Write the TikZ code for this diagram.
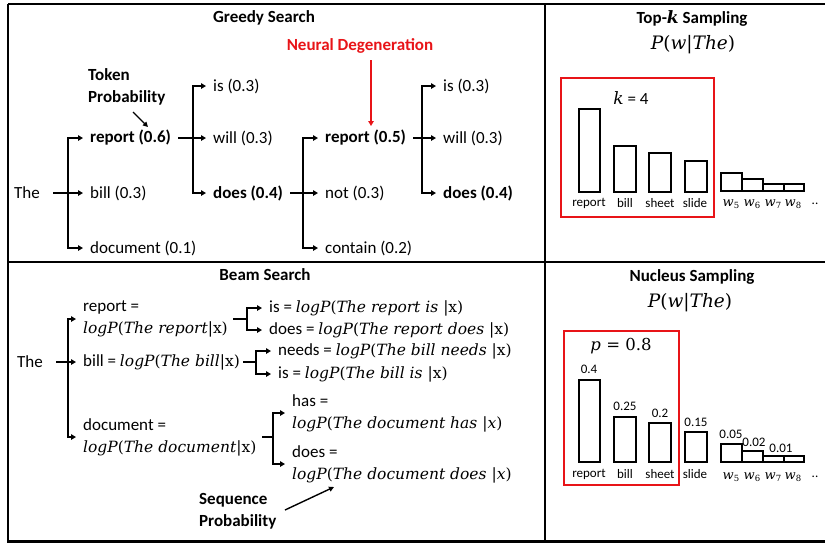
\documentclass[tikz,border=0pt]{standalone}
\usepackage{fontspec}
\setmainfont{Carlito}
\newfontfamily\mif{DejaVu Serif}
\usetikzlibrary{arrows.meta}
\definecolor{rd}{RGB}{232,20,24}
\newcommand\fs{\fontsize{17}{22}\selectfont}
\newcommand\fsb{\fontsize{13}{15}\selectfont}
\newcommand\mi{\mif\itshape}
\newcommand\mr{\mif\upshape}
\newcommand\lgp[2]{{\fontsize{15.5}{22}\selectfont{\mi logP}{\mr(}{\mi #1}{\mr #2)}}}
\newcommand\pwt{{\fontsize{18.5}{22}\selectfont{\mi P}{\mr(}{\mi w}{\mr|}{\mi The}{\mr)}}}
\newcommand\wl[1]{{\fontsize{13}{15}\selectfont\mi w}\raisebox{-0.3ex}{\fontsize{8.5}{10}\selectfont\mr #1}}
\tikzset{
  ln/.style={line width=1.8pt, line join=miter},
  arr/.style={ln, -{Triangle[length=5pt,width=5.5pt]}},
  arrtwo/.style={ln, {Triangle[length=5pt,width=5.5pt]}-{Triangle[length=5pt,width=5.5pt]}},
  tn/.style={inner xsep=7pt, inner ysep=0pt, anchor=west, font=\fs},
  bn/.style={tn, font=\fs\bfseries},
  tl/.style={tn, align=left, font=\fs},
  title/.style={inner sep=0pt, font=\fs\bfseries},
  bar/.style={line width=1.7pt},
  blab/.style={inner sep=0pt, font=\fsb},
  redbox/.style={draw=rd, line width=1.8pt},
}
\begin{document}
\begin{tikzpicture}[x=1pt,y=-1pt]
\useasboundingbox (0,0) rectangle (825,542);
% frame
\draw[line width=2.2pt] (8,4) -- (830,4);
\draw[line width=2.2pt] (8,4) -- (8,541.5) -- (830,541.5);
\draw[line width=2.2pt] (545,4) -- (545,541.5);
\draw[line width=2.2pt] (8,262) -- (830,262);

% ================= Greedy Search =================
\node[title] (gt) at (264,18) {Greedy Search};
\node[title, text=rd] (nd) at (360,46) {Neural Degeneration};
\coordinate (nda) at (371,60);
\coordinate (ndb) at (371,126);
\draw[ln, draw=rd, -{Triangle[length=5pt,width=5.5pt]}] (nda) -- (ndb);
\node[inner sep=0pt, align=left, anchor=west, font=\fs\bfseries] (tp) at (88,86.5) {Token\\Probability};
\coordinate (tpa) at (133,112);
\coordinate (tpb) at (148,127);
\draw[line width=1.4pt, -{Triangle[length=5pt,width=5pt]}] (tpa) -- (tpb);

\node[tn, inner xsep=0pt] (gthe) at (14,193) {The};
\node[bn] (g1a) at (83,138) {report (0.6)};
\node[tn] (g1b) at (83,193) {bill (0.3)};
\node[tn] (g1c) at (83,248) {document (0.1)};
\coordinate (gj1) at (68,193);
\coordinate (gs0) at (53,193);
\draw[arr] (gs0) -- (g1b.west);
\draw[arrtwo] (g1a.west) -- (gj1 |- g1a.west) -- (gj1 |- g1c.west) -- (g1c.west);

\node[tn] (g2a) at (206,86) {is (0.3)};
\node[tn] (g2b) at (206,138) {will (0.3)};
\node[bn] (g2c) at (206,193) {does (0.4)};
\coordinate (gj2) at (193,138);
\draw[arr] (g1a.east) -- (g2b.west);
\draw[arrtwo] (g2a.west) -- (gj2 |- g2a.west) -- (gj2 |- g2c.west) -- (g2c.west);

\node[bn] (g3a) at (318,138) {report (0.5)};
\node[tn] (g3b) at (318,193) {not (0.3)};
\node[tn] (g3c) at (318,248) {contain (0.2)};
\coordinate (gj3) at (303,193);
\draw[arr] (g2c.east) -- (g3b.west);
\draw[arrtwo] (g3a.west) -- (gj3 |- g3a.west) -- (gj3 |- g3c.west) -- (g3c.west);

\node[tn] (g4a) at (436,86) {is (0.3)};
\node[tn] (g4b) at (436,138) {will (0.3)};
\node[bn] (g4c) at (436,193) {does (0.4)};
\coordinate (gj4) at (422,138);
\draw[arr] (g3a.east) -- (g4b.west);
\draw[arrtwo] (g4a.west) -- (gj4 |- g4a.west) -- (gj4 |- g4c.west) -- (g4c.west);

% ================= Top-k Sampling =================
\node[title] (kt) at (692,18) {Top-{\mif\bfseries\itshape k} Sampling};
\node[inner sep=0pt] (kp) at (693,45) {\pwt};
\draw[redbox] (561,78) rectangle (714,217);
\node[inner sep=0pt, font=\fs] (kk) at (631,98) {{\fontsize{17}{20}\selectfont\mi k} = 4};
\draw[bar] (579,109) rectangle (600,192);
\draw[bar] (614,146) rectangle (636,192);
\draw[bar] (649,153) rectangle (671,192);
\draw[bar] (685,161) rectangle (707,192);
\draw[bar] (721,173) rectangle (742,191);
\draw[bar] (742,179) rectangle (763,191);
\draw[bar] (763,184) rectangle (784,191);
\draw[bar] (784,184) rectangle (804,191);
\node[blab] (kl1) at (589,203) {report};
\node[blab] (kl2) at (625,203) {bill};
\node[blab] (kl3) at (660,203) {sheet};
\node[blab] (kl4) at (695,203) {slide};
\node[blab] (kw5) at (731,204) {\wl{5}};
\node[blab] (kw6) at (752,204) {\wl{6}};
\node[blab] (kw7) at (773,204) {\wl{7}};
\node[blab] (kw8) at (793,204) {\wl{8}};
\node[blab] (kdd) at (815,204) {..};

% ================= Beam Search =================
\node[title] (bt) at (265,275) {Beam Search};
\node[tn, inner xsep=0pt] (bthe) at (17,362) {The};
\coordinate (bs0) at (56,362);
\coordinate (bj1) at (68,362);
\node[tl] (b1a) at (76,319) {report =\\\lgp{The report}{|x}};
\node[tn] (b1b) at (76,362) {bill = \lgp{The bill}{|x}};
\node[tl] (b1c) at (76,437) {document =\\\lgp{The document}{|x}};
\draw[arr] (bs0) -- (b1b.west);
\draw[arrtwo] (b1a.west) -- (bj1 |- b1a.west) -- (bj1 |- b1c.west) -- (b1c.west);

\coordinate (bj2) at (247,319);
\coordinate (bs2) at (233,319);
\node[tn] (b2a) at (262,308) {is = \lgp{The report is }{|x}};
\node[tn] (b2b) at (262,330) {does = \lgp{The report does }{|x}};
\draw[ln] (bs2) -- (bj2);
\draw[arrtwo] (b2a.west) -- (bj2 |- b2a.west) -- (bj2 |- b2b.west) -- (b2b.west);

\coordinate (bj3) at (256,362);
\coordinate (bs3) at (243,362);
\node[tn] (b3a) at (271,351) {needs = \lgp{The bill needs }{|x}};
\node[tn] (b3b) at (271,374) {is = \lgp{The bill is }{|x}};
\draw[ln] (bs3) -- (bj3);
\draw[arrtwo] (b3a.west) -- (bj3 |- b3a.west) -- (bj3 |- b3b.west) -- (b3b.west);

\coordinate (bj4) at (273,437);
\coordinate (bs4) at (262,437);
\node[tl] (b4a) at (285,413) {has =\\\lgp{The document has }{|{\mi x}}};
\node[tl] (b4b) at (285,464) {does =\\\lgp{The document does }{|{\mi x}}};
\draw[ln] (bs4) -- (bj4);
\draw[arrtwo] (b4a.west) -- (bj4 |- b4a.west) -- (bj4 |- b4b.west) -- (b4b.west);

\node[inner sep=0pt, align=left, anchor=west, font=\fs\bfseries] (sp) at (199,511.5) {Sequence\\Probability};
\coordinate (spa) at (285,510);
\coordinate (spb) at (334,487);
\draw[line width=1.4pt, -{Triangle[length=5pt,width=5pt]}] (spa) -- (spb);

% ================= Nucleus Sampling =================
\node[title] (nt) at (692,277) {Nucleus Sampling};
\node[inner sep=0pt] (np) at (690,303) {\pwt};
\draw[redbox] (564,331) rectangle (679,485);
\node[inner sep=0pt] (npp) at (621,346) {\fontsize{16.5}{20}\selectfont{\mi p}{\mr\ = 0.8}};
\draw[bar] (579,380) rectangle (600,462);
\draw[bar] (614,417) rectangle (636,462);
\draw[bar] (649,423) rectangle (671,462);
\draw[bar] (685,432) rectangle (707,462);
\draw[bar] (721,444) rectangle (742,462);
\draw[bar] (742,451) rectangle (763,462);
\draw[bar] (763,456) rectangle (784,462);
\draw[bar] (784,456) rectangle (804,462);
\node[blab] (nv1) at (589,369) {0.4};
\node[blab] (nv2) at (625,406) {0.25};
\node[blab] (nv3) at (660,413) {0.2};
\node[blab] (nv4) at (696,422) {0.15};
\node[blab] (nv5) at (731,434) {0.05};
\node[blab] (nv6) at (754,442) {0.02};
\node[blab] (nv7) at (781,448) {0.01};
\node[blab] (nl1) at (589,474) {report};
\node[blab] (nl2) at (625,474) {bill};
\node[blab] (nl3) at (660,474) {sheet};
\node[blab] (nl4) at (695,474) {slide};
\node[blab] (nw5) at (731,477) {\wl{5}};
\node[blab] (nw6) at (752,477) {\wl{6}};
\node[blab] (nw7) at (773,477) {\wl{7}};
\node[blab] (nw8) at (793,477) {\wl{8}};
\node[blab] (ndd) at (815,477) {..};
\end{tikzpicture}
\end{document}
